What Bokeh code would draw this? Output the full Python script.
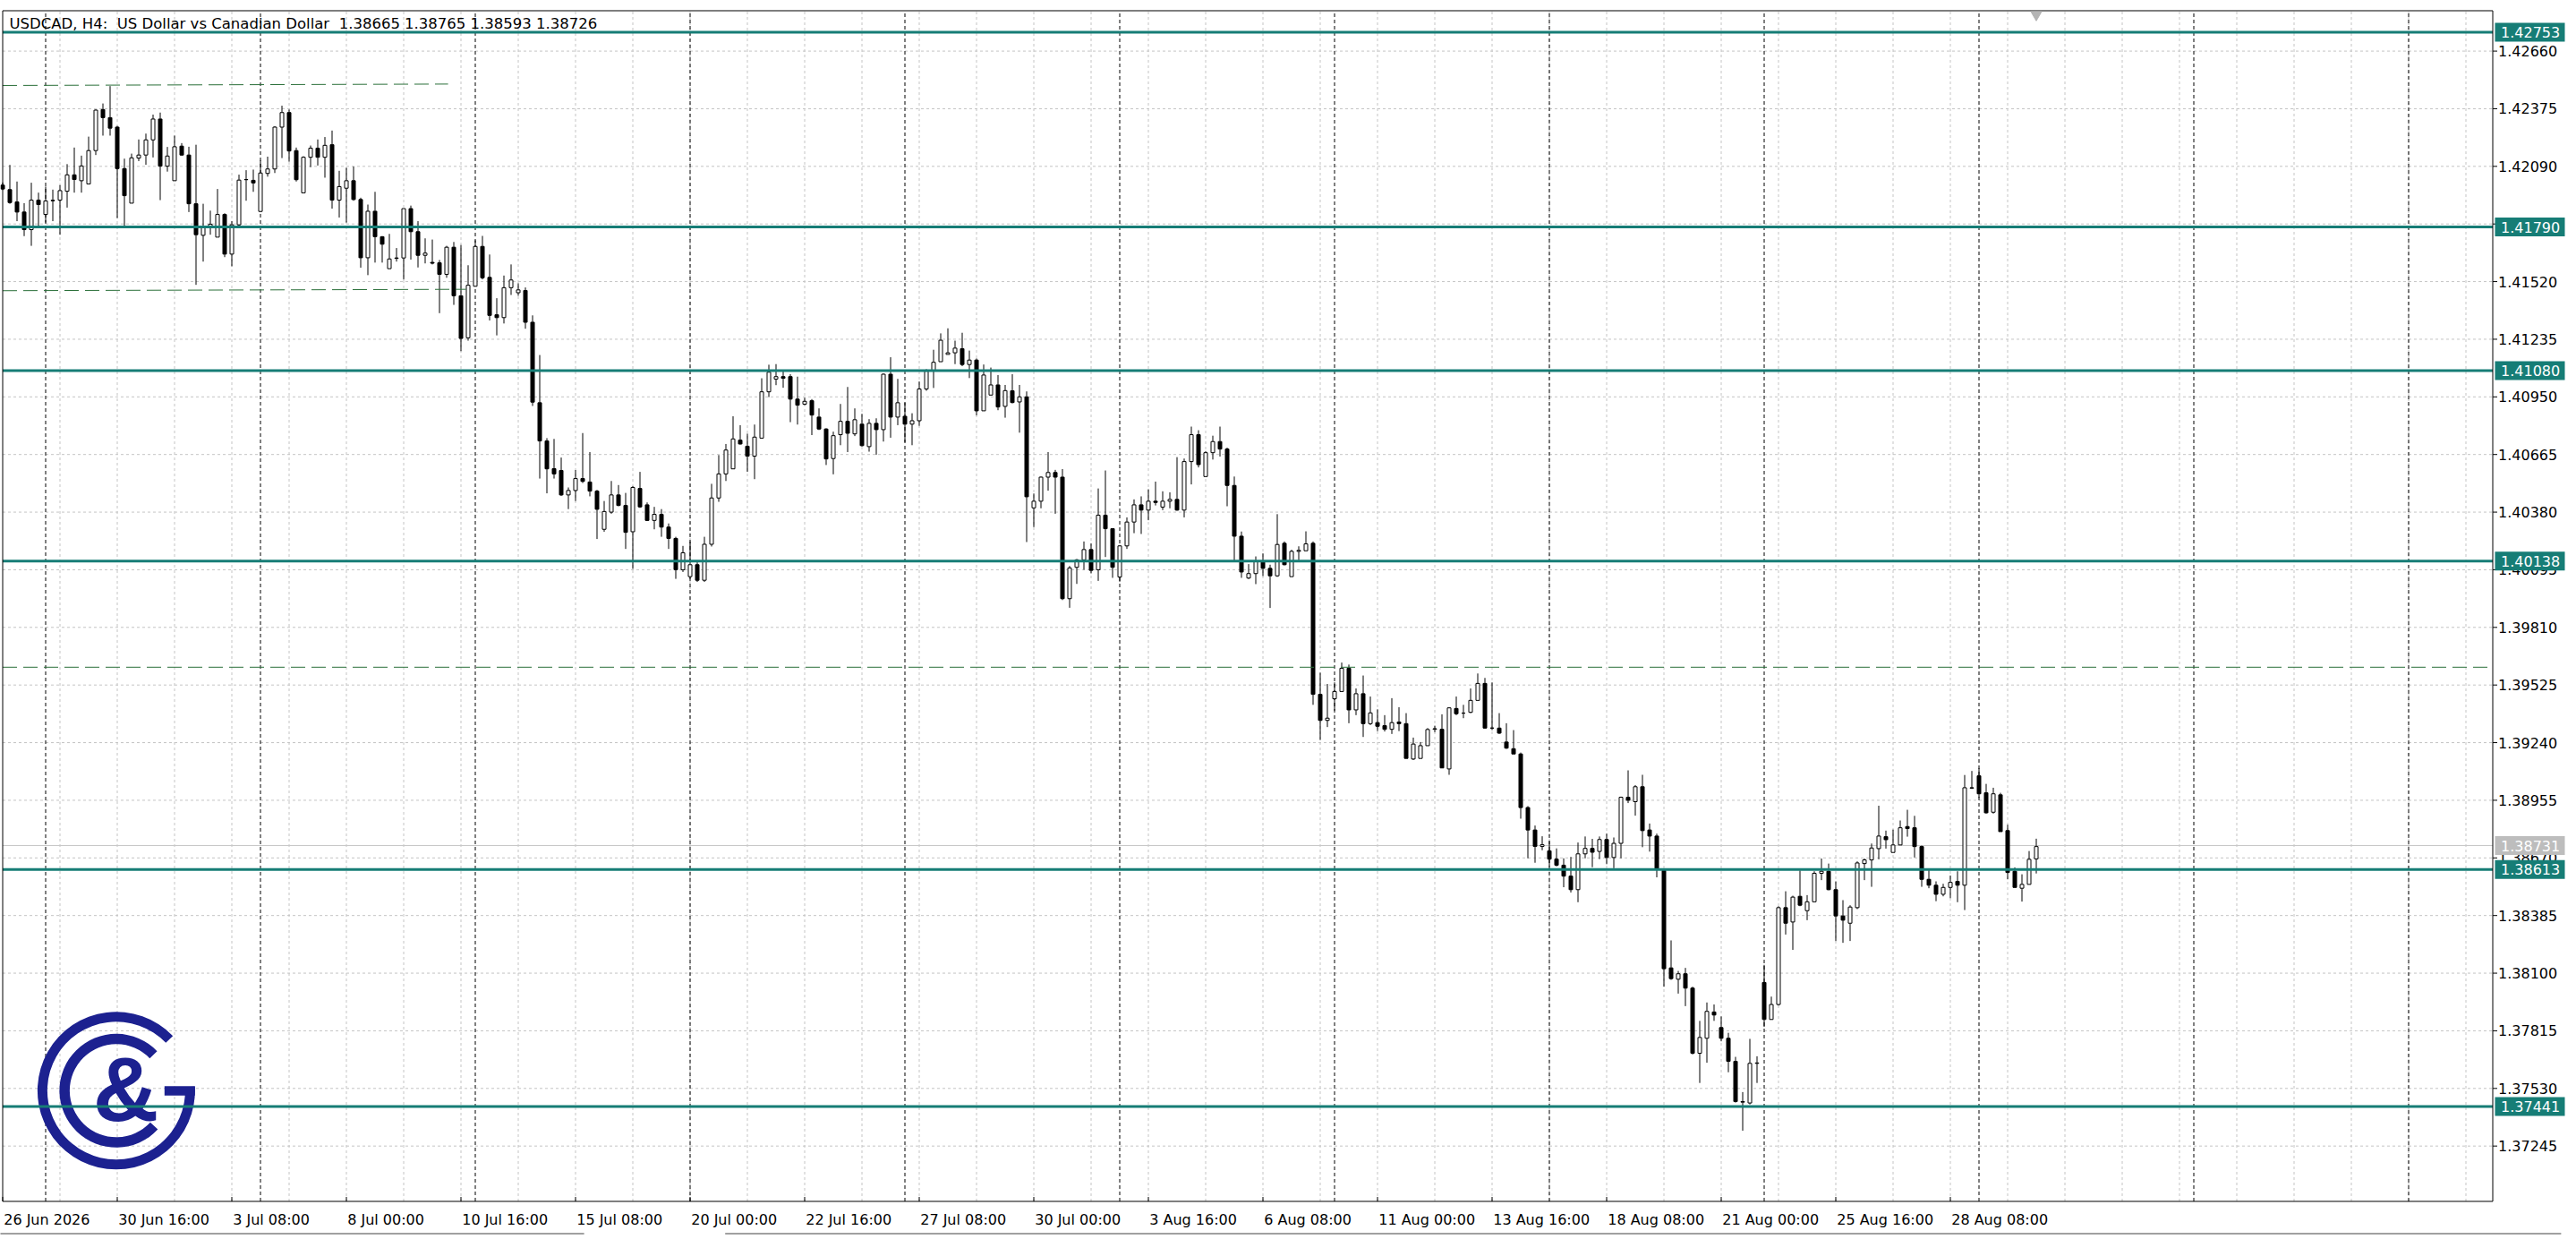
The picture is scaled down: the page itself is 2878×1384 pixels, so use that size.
import math
from bokeh.plotting import figure
from bokeh.models import ColumnDataSource, Range1d
from bokeh.embed import file_html
from bokeh.resources import INLINE
from bokeh.core.properties import value

# ---------------- data (USDCAD H4, bar index 0 = 26 Jun 2026 00:00) ----------------
opens = [
1.41997, 1.41975, 1.41914, 1.41864, 1.41777, 1.41923, 1.41852, 1.41922, 1.41923, 1.41967,
1.42048, 1.42019, 1.42003, 1.42168, 1.42371, 1.42331, 1.42284, 1.42079, 1.41908, 1.42131,
1.42146, 1.42221, 1.42324, 1.42091, 1.42019, 1.42190, 1.42146, 1.41905, 1.41749, 1.41792,
1.41740, 1.41852, 1.41656, 1.41801, 1.42025, 1.42021, 1.41867, 1.42055, 1.42077, 1.42284,
1.42356, 1.42168, 1.41959, 1.42135, 1.42180, 1.42135, 1.42197, 1.41923, 1.41982, 1.42019,
1.41926, 1.41638, 1.41868, 1.41742, 1.41584, 1.41637, 1.41637, 1.41881, 1.41767, 1.41650,
1.41615, 1.41613, 1.41556, 1.41690, 1.41450, 1.41242, 1.41497, 1.41694, 1.41541, 1.41356,
1.41342, 1.41490, 1.41465, 1.41476, 1.41319, 1.40921, 1.40732, 1.40595, 1.40586, 1.40465,
1.40487, 1.40546, 1.40529, 1.40484, 1.40295, 1.40380, 1.40465, 1.40413, 1.40283, 1.40497,
1.40416, 1.40339, 1.40369, 1.40306, 1.40250, 1.40095, 1.40061, 1.40120, 1.40043, 1.40221,
1.40450, 1.40569, 1.40594, 1.40736, 1.40706, 1.40657, 1.40746, 1.40975, 1.41038, 1.41050,
1.41050, 1.40939, 1.40914, 1.40931, 1.40850, 1.40791, 1.40645, 1.40763, 1.40829, 1.40767,
1.40815, 1.40704, 1.40819, 1.40788, 1.41062, 1.40850, 1.40854, 1.40815, 1.40832, 1.40989,
1.41080, 1.41124, 1.41160, 1.41168, 1.41188, 1.41110, 1.41132, 1.40881, 1.40959, 1.41009,
1.40903, 1.40980, 1.40925, 1.40950, 1.40401, 1.40434, 1.40553, 1.40576, 1.40553, 1.39952,
1.40107, 1.40144, 1.40195, 1.40095, 1.40365, 1.40298, 1.40059, 1.40213, 1.40331, 1.40416,
1.40390, 1.40434, 1.40405, 1.40434, 1.40443, 1.40390, 1.40630, 1.40763, 1.40556, 1.40674,
1.40729, 1.40692, 1.40512, 1.40261, 1.40054, 1.40076, 1.40132, 1.40102, 1.40065, 1.40226,
1.40061, 1.40186, 1.40189, 1.40226, 1.39479, 1.39350, 1.39457, 1.39493, 1.39608, 1.39402,
1.39482, 1.39334, 1.39339, 1.39324, 1.39306, 1.39342, 1.39334, 1.39159, 1.39162, 1.39225,
1.39306, 1.39306, 1.39110, 1.39409, 1.39386, 1.39390, 1.39449, 1.39533, 1.39312, 1.39312,
1.39243, 1.39210, 1.39184, 1.38919, 1.38808, 1.38727, 1.38705, 1.38664, 1.38634, 1.38580,
1.38513, 1.38690, 1.38717, 1.38702, 1.38761, 1.38672, 1.38742, 1.38970, 1.38948, 1.39022,
1.38808, 1.38778, 1.38608, 1.38126, 1.38070, 1.38097, 1.38026, 1.37704, 1.37778, 1.37908,
1.37831, 1.37778, 1.37664, 1.37462, 1.37458, 1.37654, 1.38054, 1.37871, 1.37945, 1.38424,
1.38353, 1.38480, 1.38409, 1.38453, 1.38594, 1.38604, 1.38513, 1.38383, 1.38347, 1.38424,
1.38642, 1.38660, 1.38716, 1.38775, 1.38697, 1.38734, 1.38825, 1.38819, 1.38726, 1.38564,
1.38535, 1.38490, 1.38524, 1.38554, 1.38535, 1.39017, 1.39076, 1.38992, 1.38896, 1.38982,
1.38805, 1.38604, 1.38520, 1.38539, 1.38665]

highs = [
1.42010, 1.42097, 1.42015, 1.41908, 1.42009, 1.41960, 1.41990, 1.41975, 1.41997, 1.42101,
1.42183, 1.42143, 1.42237, 1.42372, 1.42401, 1.42487, 1.42290, 1.42128, 1.42153, 1.42223,
1.42252, 1.42346, 1.42356, 1.42186, 1.42242, 1.42205, 1.42187, 1.42197, 1.41905, 1.41871,
1.41978, 1.41858, 1.41819, 1.42049, 1.42071, 1.42074, 1.42119, 1.42138, 1.42289, 1.42390,
1.42371, 1.42183, 1.42140, 1.42193, 1.42223, 1.42235, 1.42267, 1.42068, 1.42083, 1.42089,
1.41935, 1.41901, 1.41964, 1.41745, 1.41756, 1.41686, 1.41881, 1.41896, 1.41819, 1.41734,
1.41728, 1.41627, 1.41697, 1.41716, 1.41701, 1.41601, 1.41724, 1.41746, 1.41654, 1.41438,
1.41550, 1.41605, 1.41512, 1.41491, 1.41353, 1.41157, 1.40746, 1.40742, 1.40650, 1.40502,
1.40588, 1.40771, 1.40677, 1.40490, 1.40435, 1.40534, 1.40514, 1.40475, 1.40509, 1.40579,
1.40428, 1.40406, 1.40395, 1.40324, 1.40258, 1.40213, 1.40235, 1.40132, 1.40258, 1.40520,
1.40662, 1.40717, 1.40854, 1.40810, 1.40768, 1.40813, 1.41042, 1.41109, 1.41112, 1.41079,
1.41062, 1.41050, 1.40946, 1.40939, 1.40893, 1.40795, 1.40778, 1.40915, 1.40999, 1.40893,
1.40866, 1.40840, 1.40844, 1.41066, 1.41146, 1.41039, 1.40921, 1.40869, 1.41026, 1.41087,
1.41183, 1.41264, 1.41289, 1.41228, 1.41267, 1.41179, 1.41140, 1.41110, 1.41095, 1.41058,
1.41009, 1.41062, 1.41009, 1.40977, 1.40472, 1.40556, 1.40677, 1.40589, 1.40593, 1.40114,
1.40148, 1.40235, 1.40225, 1.40497, 1.40586, 1.40301, 1.40217, 1.40354, 1.40443, 1.40458,
1.40493, 1.40531, 1.40483, 1.40478, 1.40652, 1.40645, 1.40803, 1.40785, 1.40682, 1.40758,
1.40803, 1.40699, 1.40556, 1.40284, 1.40123, 1.40161, 1.40176, 1.40120, 1.40370, 1.40235,
1.40194, 1.40211, 1.40285, 1.40235, 1.39586, 1.39530, 1.39538, 1.39636, 1.39626, 1.39508,
1.39572, 1.39468, 1.39405, 1.39376, 1.39460, 1.39415, 1.39386, 1.39265, 1.39243, 1.39312,
1.39324, 1.39380, 1.39415, 1.39468, 1.39427, 1.39508, 1.39582, 1.39560, 1.39538, 1.39386,
1.39336, 1.39302, 1.39191, 1.38926, 1.38830, 1.38777, 1.38752, 1.38717, 1.38668, 1.38675,
1.38746, 1.38776, 1.38764, 1.38776, 1.38790, 1.38771, 1.38973, 1.39103, 1.39030, 1.39081,
1.38840, 1.38790, 1.38613, 1.38262, 1.38111, 1.38126, 1.38033, 1.37864, 1.37955, 1.37945,
1.37886, 1.37805, 1.37686, 1.37512, 1.37775, 1.37689, 1.38141, 1.37984, 1.38431, 1.38505,
1.38483, 1.38608, 1.38486, 1.38604, 1.38667, 1.38642, 1.38554, 1.38461, 1.38436, 1.38653,
1.38667, 1.38741, 1.38928, 1.38805, 1.38810, 1.38855, 1.38908, 1.38878, 1.38731, 1.38616,
1.38554, 1.38542, 1.38583, 1.38604, 1.39080, 1.39100, 1.39114, 1.39036, 1.39017, 1.38992,
1.38834, 1.38623, 1.38589, 1.38704, 1.38765]

lows = [
1.41973, 1.41905, 1.41819, 1.41745, 1.41697, 1.41789, 1.41812, 1.41819, 1.41752, 1.41886,
1.41960, 1.41960, 1.42003, 1.42146, 1.42242, 1.42242, 1.41834, 1.41797, 1.41908, 1.42116,
1.42098, 1.42134, 1.41923, 1.42064, 1.42019, 1.42143, 1.41864, 1.41504, 1.41619, 1.41752,
1.41740, 1.41641, 1.41596, 1.41797, 1.41920, 1.41964, 1.41864, 1.42039, 1.42057, 1.42131,
1.42113, 1.42015, 1.41959, 1.42086, 1.42094, 1.42034, 1.41881, 1.41837, 1.41812, 1.41920,
1.41589, 1.41552, 1.41614, 1.41614, 1.41584, 1.41619, 1.41530, 1.41629, 1.41590, 1.41610,
1.41605, 1.41364, 1.41539, 1.41405, 1.41176, 1.41228, 1.41497, 1.41531, 1.41328, 1.41254,
1.41313, 1.41454, 1.41450, 1.41287, 1.40905, 1.40546, 1.40473, 1.40546, 1.40460, 1.40395,
1.40435, 1.40524, 1.40458, 1.40247, 1.40283, 1.40372, 1.40409, 1.40198, 1.40099, 1.40401,
1.40336, 1.40295, 1.40258, 1.40198, 1.40050, 1.40084, 1.40050, 1.40035, 1.40035, 1.40210,
1.40431, 1.40534, 1.40594, 1.40714, 1.40579, 1.40543, 1.40746, 1.40949, 1.41008, 1.40995,
1.40825, 1.40813, 1.40909, 1.40761, 1.40786, 1.40613, 1.40567, 1.40711, 1.40677, 1.40756,
1.40704, 1.40679, 1.40664, 1.40729, 1.40748, 1.40810, 1.40726, 1.40711, 1.40807, 1.40980,
1.40994, 1.41124, 1.41160, 1.41112, 1.41102, 1.41043, 1.40859, 1.40881, 1.40959, 1.40884,
1.40847, 1.40918, 1.40773, 1.40232, 1.40306, 1.40399, 1.40486, 1.40372, 1.39945, 1.39907,
1.40025, 1.40095, 1.40077, 1.40040, 1.40158, 1.40055, 1.40036, 1.40198, 1.40276, 1.40272,
1.40340, 1.40413, 1.40390, 1.40399, 1.40387, 1.40354, 1.40517, 1.40601, 1.40556, 1.40640,
1.40655, 1.40409, 1.40139, 1.40055, 1.40049, 1.40024, 1.40064, 1.39906, 1.40060, 1.40117,
1.40061, 1.40142, 1.40189, 1.39427, 1.39253, 1.39317, 1.39398, 1.39493, 1.39336, 1.39376,
1.39268, 1.39327, 1.39297, 1.39295, 1.39283, 1.39297, 1.39162, 1.39154, 1.39162, 1.39225,
1.39292, 1.39115, 1.39081, 1.39376, 1.39361, 1.39386, 1.39449, 1.39309, 1.39302, 1.39283,
1.39209, 1.39184, 1.38864, 1.38668, 1.38646, 1.38708, 1.38628, 1.38628, 1.38525, 1.38499,
1.38451, 1.38668, 1.38624, 1.38664, 1.38639, 1.38619, 1.38668, 1.38941, 1.38879, 1.38723,
1.38701, 1.38574, 1.38033, 1.38067, 1.37999, 1.37937, 1.37698, 1.37557, 1.37657, 1.37864,
1.37763, 1.37610, 1.37460, 1.37321, 1.37451, 1.37557, 1.37834, 1.37871, 1.37940, 1.38291,
1.38215, 1.38431, 1.38362, 1.38453, 1.38560, 1.38510, 1.38259, 1.38250, 1.38259, 1.38417,
1.38560, 1.38527, 1.38663, 1.38716, 1.38697, 1.38734, 1.38775, 1.38672, 1.38527, 1.38520,
1.38456, 1.38480, 1.38471, 1.38451, 1.38412, 1.39011, 1.38967, 1.38889, 1.38889, 1.38800,
1.38564, 1.38524, 1.38454, 1.38539, 1.38593]

closes = [
1.41978, 1.41911, 1.41864, 1.41777, 1.41923, 1.41901, 1.41919, 1.41920, 1.41970, 1.42048,
1.42025, 1.42092, 1.42168, 1.42368, 1.42331, 1.42279, 1.42079, 1.41945, 1.42132, 1.42146,
1.42221, 1.42324, 1.42091, 1.42141, 1.42187, 1.42146, 1.41905, 1.41752, 1.41792, 1.41804,
1.41852, 1.41656, 1.41801, 1.42022, 1.42024, 1.42008, 1.42057, 1.42077, 1.42284, 1.42356,
1.42166, 1.42024, 1.42135, 1.42180, 1.42135, 1.42194, 1.41923, 1.41990, 1.42019, 1.41926,
1.41638, 1.41868, 1.41742, 1.41705, 1.41632, 1.41635, 1.41881, 1.41767, 1.41650, 1.41661,
1.41611, 1.41556, 1.41690, 1.41450, 1.41239, 1.41502, 1.41694, 1.41539, 1.41353, 1.41342,
1.41490, 1.41528, 1.41479, 1.41319, 1.40924, 1.40732, 1.40594, 1.40569, 1.40465, 1.40487,
1.40546, 1.40532, 1.40484, 1.40394, 1.40383, 1.40465, 1.40413, 1.40280, 1.40502, 1.40406,
1.40339, 1.40369, 1.40306, 1.40250, 1.40095, 1.40179, 1.40120, 1.40043, 1.40221, 1.40450,
1.40569, 1.40687, 1.40742, 1.40717, 1.40657, 1.40751, 1.40975, 1.41072, 1.41050, 1.41042,
1.40939, 1.40909, 1.40928, 1.40860, 1.40791, 1.40643, 1.40758, 1.40829, 1.40770, 1.40837,
1.40709, 1.40819, 1.40788, 1.41062, 1.40850, 1.40921, 1.40815, 1.40832, 1.40989, 1.41077,
1.41121, 1.41230, 1.41168, 1.41191, 1.41110, 1.41132, 1.40881, 1.41058, 1.41009, 1.40900,
1.40981, 1.40922, 1.40950, 1.40456, 1.40434, 1.40553, 1.40576, 1.40553, 1.39952, 1.40104,
1.40144, 1.40195, 1.40092, 1.40365, 1.40298, 1.40107, 1.40213, 1.40331, 1.40416, 1.40390,
1.40434, 1.40428, 1.40434, 1.40443, 1.40390, 1.40630, 1.40763, 1.40615, 1.40674, 1.40729,
1.40692, 1.40512, 1.40261, 1.40084, 1.40076, 1.40135, 1.40102, 1.40065, 1.40220, 1.40120,
1.40186, 1.40191, 1.40223, 1.39479, 1.39350, 1.39361, 1.39493, 1.39608, 1.39402, 1.39482,
1.39334, 1.39387, 1.39321, 1.39306, 1.39339, 1.39334, 1.39162, 1.39233, 1.39225, 1.39305,
1.39309, 1.39115, 1.39412, 1.39383, 1.39386, 1.39449, 1.39533, 1.39312, 1.39312, 1.39287,
1.39213, 1.39184, 1.38919, 1.38808, 1.38727, 1.38735, 1.38664, 1.38634, 1.38580, 1.38513,
1.38690, 1.38717, 1.38698, 1.38761, 1.38672, 1.38742, 1.38970, 1.38955, 1.39022, 1.38805,
1.38778, 1.38616, 1.38122, 1.38073, 1.38097, 1.38026, 1.37704, 1.37782, 1.37911, 1.37893,
1.37778, 1.37664, 1.37465, 1.37465, 1.37654, 1.37656, 1.37871, 1.37945, 1.38424, 1.38347,
1.38476, 1.38436, 1.38453, 1.38594, 1.38604, 1.38513, 1.38383, 1.38362, 1.38427, 1.38645,
1.38660, 1.38719, 1.38778, 1.38760, 1.38734, 1.38819, 1.38815, 1.38726, 1.38564, 1.38535,
1.38490, 1.38524, 1.38549, 1.38535, 1.39017, 1.39015, 1.38987, 1.38893, 1.38987, 1.38800,
1.38598, 1.38524, 1.38539, 1.38663, 1.38726]

price_ticks = [1.42660, 1.42375, 1.42090, 1.41805, 1.41520, 1.41235, 1.40950, 1.40665,
               1.40380, 1.40095, 1.39810, 1.39525, 1.39240, 1.38955, 1.38670, 1.38385,
               1.38100, 1.37815, 1.37530, 1.37245]
level_prices = [1.42753, 1.41790, 1.41080, 1.40138, 1.38613, 1.37441]
bid_price = 1.38731

time_label_bars = [0, 16, 32, 48, 64, 80, 96, 112, 128, 144, 160, 176, 192, 208, 224, 240, 256, 272]
time_labels = ["26 Jun 2026", "30 Jun 16:00", "3 Jul 08:00", "8 Jul 00:00", "10 Jul 16:00",
               "15 Jul 08:00", "20 Jul 00:00", "22 Jul 16:00", "27 Jul 08:00", "30 Jul 00:00",
               "3 Aug 16:00", "6 Aug 08:00", "11 Aug 00:00", "13 Aug 16:00", "18 Aug 08:00",
               "21 Aug 00:00", "25 Aug 16:00", "28 Aug 08:00"]
week_start_bars = [6, 36, 66, 96, 126, 156, 186, 216, 246, 276, 306, 336]
grid_bars = list(range(8, 348, 8))

# dashed (trend) lines: start bar, end bar, start price, end price
trend_x0 = [0.0, 0.0, 0.0]
trend_x1 = [62.2, 64.7, 347.75]
trend_y0 = [1.42490, 1.41475, 1.39613]
trend_y1 = [1.42497, 1.41482, 1.39613]

header = "USDCAD, H4:\u00a0 US Dollar vs Canadian Dollar\u00a0 1.38665 1.38765 1.38593 1.38726"

# ---------------- layout constants ----------------
TEAL = "#167d76"
FONT = "DejaVu Sans"
LOGO = "#1c2190"
PX_X = 8.0          # pixels per bar
PX_Y = 22587.0      # pixels per price unit
XL, XR = 0.0, 347.75            # chart frame left / right (bars)
YB, YT = 1.369713, 1.428596     # chart frame bottom / top (price)

p = figure(width=2878, height=1384, output_backend="svg", toolbar_location=None,
           x_range=Range1d(-0.3125, 359.4375), y_range=Range1d(1.367831, 1.429105),
           x_axis_location=None, y_axis_location=None, min_border=0)
p.background_fill_color = "white"
p.border_fill_color = "white"
p.outline_line_color = None
p.grid.visible = False

def dashed(xs0, ys0, xs1, ys1, color, dash, width=1):
    p.segment(x0=xs0, y0=ys0, x1=xs1, y1=ys1, line_color=color, line_dash=dash, line_width=width)

# grid
n = len(grid_bars)
dashed(grid_bars, [YB] * n, grid_bars, [YT] * n, "#c4c4c4", "3 3")
m = len(price_ticks)
dashed([XL] * m, price_ticks, [XR] * m, price_ticks, "#c4c4c4", "3 3")

# bid line
p.segment(x0=[XL], y0=[bid_price], x1=[XR], y1=[bid_price], line_color="#c8c8c8", line_width=1)

# weekly period separators
k = len(week_start_bars)
dashed(week_start_bars, [YB] * k, week_start_bars, [YT] * k, "black", "4 3")

# logo (decoration)
cx, cy = 15.86, 1.37519
p.annular_wedge(x=[cx], y=[cy], inner_radius=77, outer_radius=88,
                inner_radius_units="screen", outer_radius_units="screen",
                start_angle=math.radians(44), end_angle=math.radians(3), direction="anticlock",
                fill_color=LOGO, line_color=None)
p.annular_wedge(x=[cx], y=[cy], inner_radius=52, outer_radius=63.5,
                inner_radius_units="screen", outer_radius_units="screen",
                start_angle=math.radians(44), end_angle=math.radians(-43), direction="anticlock",
                fill_color=LOGO, line_color=None)
p.rect(x=[24.725], y=[1.37518], width=34, height=10.6, width_units="screen", height_units="screen",
       fill_color=LOGO, line_color=None)
p.text(x=[17.19], y=[1.375238], text=["&"], text_font=value("Liberation Sans"), text_font_style="bold",
       text_font_size=value("102px"), text_align="center", text_baseline="middle", text_color=LOGO)

# candles
idx = list(range(len(opens)))
src = ColumnDataSource(dict(
    x=idx, high=highs, low=lows,
    top=[max(o, c) for o, c in zip(opens, closes)],
    bottom=[min(o, c) for o, c in zip(opens, closes)],
    fill=["white" if c >= o else "black" for o, c in zip(opens, closes)],
))
p.segment(x0="x", y0="low", x1="x", y1="high", source=src, line_color="black", line_width=1)
p.vbar(x="x", top="top", bottom="bottom", width=0.5, fill_color="fill", line_color="black",
       line_width=1, source=src)

# dashed trend lines
dashed(trend_x0, trend_y0, trend_x1, trend_y1, "#2a6f39", "16 7")

# horizontal levels
L = len(level_prices)
p.segment(x0=[XL] * L, y0=level_prices, x1=[XR] * L, y1=level_prices, line_color=TEAL, line_width=3)

# chart frame
p.segment(x0=[XL, XL, XL, XR], y0=[YT, YB, YB, YB], x1=[XR, XR, XL, XR], y1=[YT, YB, YT, YT],
          line_color="black", line_width=1)

# chart-shift marker at the last bar
p.scatter(x=[len(opens) - 1], y=[1.42840], marker="inverted_triangle", size=12,
          fill_color="#b4b4b4", line_color="#b4b4b4")

# price scale: ticks + labels
p.segment(x0=[XR] * m, y0=price_ticks, x1=[XR + 5 / PX_X] * m, y1=price_ticks, line_color="black")
p.text(x=[XR + 6 / PX_X] * m, y=price_ticks, text=[f"{t:.5f}" for t in price_ticks],
       text_font=value(FONT), text_font_size=value("16px"), text_align="left",
       text_baseline="middle", text_color="black")

# price boxes
box_cx = XR + 41.5 / PX_X
txt_x = XR + 9 / PX_X
p.rect(x=[box_cx] * L, y=level_prices, width=78, height=21, width_units="screen", height_units="screen",
       fill_color=TEAL, line_color=None)
p.text(x=[txt_x] * L, y=level_prices, text=[f"{v:.5f}" for v in level_prices],
       text_font=value(FONT), text_font_size=value("16px"), text_align="left",
       text_baseline="middle", text_color="white")
p.rect(x=[box_cx], y=[bid_price], width=78, height=21, width_units="screen", height_units="screen",
       fill_color="#bdbdbd", line_color=None)
p.text(x=[txt_x], y=[bid_price], text=[f"{bid_price:.5f}"],
       text_font=value(FONT), text_font_size=value("16px"), text_align="left",
       text_baseline="middle", text_color="white")

# time scale: ticks + labels
T = len(time_label_bars)
p.segment(x0=time_label_bars, y0=[YB] * T, x1=time_label_bars, y1=[YB + 5 / PX_Y] * T, line_color="black")
p.text(x=[b + 1.2 / PX_X for b in time_label_bars], y=[1.368818] * T, text=time_labels,
       text_font=value(FONT), text_font_size=value("16px"), text_align="left",
       text_baseline="middle", text_color="black")
# bottom edge line of the window
p.segment(x0=[-1.0, 100.9], y0=[1.368118] * 2, x1=[81.2, 357.3], y1=[1.368118] * 2,
          line_color="#404040", line_width=1)

# header
p.text(x=[0.9375], y=[1.427976], text=[header], text_font=value(FONT), text_font_size=value("16.5px"),
       text_align="left", text_baseline="middle", text_color="black")

open("out.html", "w").write(file_html(p, INLINE))
